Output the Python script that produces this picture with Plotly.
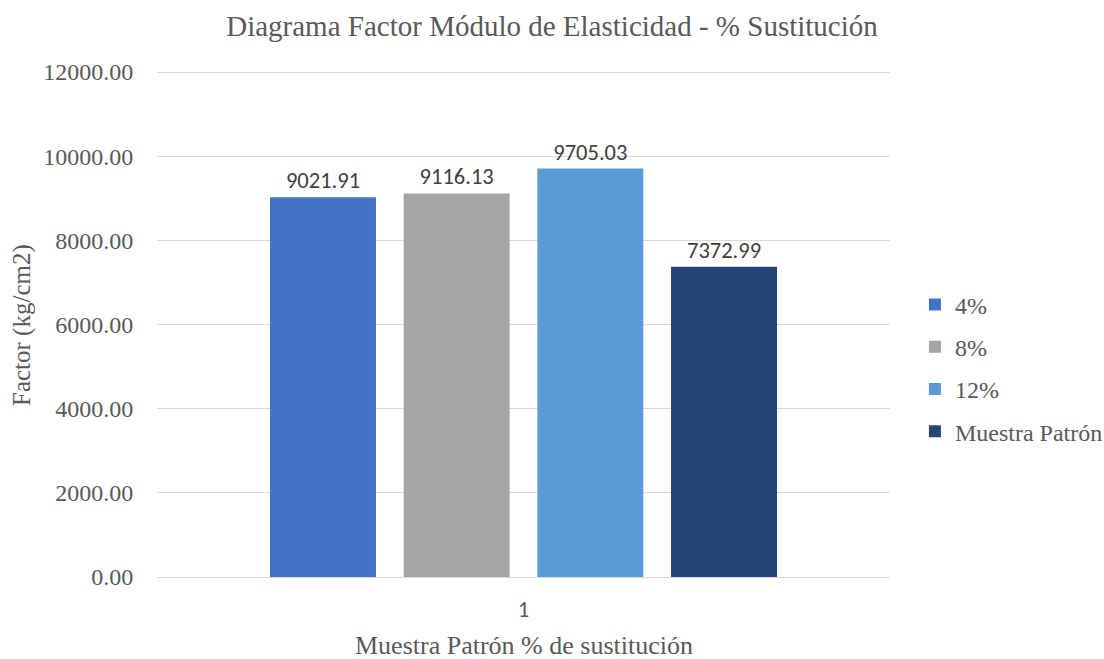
import plotly.graph_objects as go

# chart data
categories = ["1"]
series_names = ["4%", "8%", "12%", "Muestra Patrón"]
series_values = [[9021.91], [9116.13], [9705.03], [7372.99]]
colors = ["#4472C4", "#A5A5A5", "#5B9BD5", "#264478"]
y_ticks = [0, 2000, 4000, 6000, 8000, 10000, 12000]

serif = "Liberation Serif, Times New Roman, serif"
sans = "Carlito, Liberation Sans, Arial, sans-serif"
grey = "#595959"

fig = go.Figure()
for name, vals, col in zip(series_names, series_values, colors):
    fig.add_trace(go.Bar(
        x=categories, y=vals, name=name, legendgroup=name,
        marker=dict(color=col, line=dict(width=0)),
        text=[f"{v:.2f}" for v in vals],
        textposition="outside",
        textfont=dict(family=sans, size=22.5, color="#404040"),
        cliponaxis=False,
    ))

fig.update_layout(
    width=1104, height=659,
    paper_bgcolor="white", plot_bgcolor="white",
    margin=dict(l=157, r=214, t=71, b=82, autoexpand=False),
    barmode="group", bargap=0.2705, bargroupgap=0.207,
    title=dict(text="Diagrama Factor Módulo de Elasticidad - % Sustitución",
               x=0.5, xanchor="center", y=0.961, yanchor="middle",
               font=dict(family=serif, size=29, color=grey)),
    legend=dict(x=1.034, y=(577 - 368) / 506, xanchor="left", yanchor="middle",
                font=dict(family=serif, size=24, color=grey),
                tracegroupgap=8, itemwidth=30),
    showlegend=True,
)
fig.update_xaxes(
    automargin=False,
    showline=True, linecolor="#D9D9D9", linewidth=1,
    tickfont=dict(family=sans, size=22, color=grey),
    ticks="outside", ticklen=13, tickcolor="white",
)
fig.update_yaxes(
    automargin=False,
    range=[0, 12025], tickvals=y_ticks,
    ticktext=[f"{t:.2f}" for t in y_ticks],
    showgrid=True, gridcolor="#D9D9D9", gridwidth=1,
    zeroline=False, showline=False,
    tickfont=dict(family=serif, size=24, color=grey),
    ticks="outside", ticklen=18, tickcolor="white",
)
fig.add_annotation(text="Muestra Patrón % de sustitución", xref="paper", yref="paper",
                   x=0.5, y=-(646 - 577) / 506, xanchor="center", yanchor="middle",
                   showarrow=False, font=dict(family=serif, size=26, color=grey))
fig.add_annotation(text="Factor (kg/cm2)", xref="paper", yref="paper",
                   x=-(157 - 22) / 733, y=(577 - 325) / 506, xanchor="center", yanchor="middle",
                   textangle=-90, showarrow=False, font=dict(family=serif, size=25, color=grey))

fig.write_html("out.html", config={"displayModeBar": False},
               post_script="document.body.style.margin='0';")
